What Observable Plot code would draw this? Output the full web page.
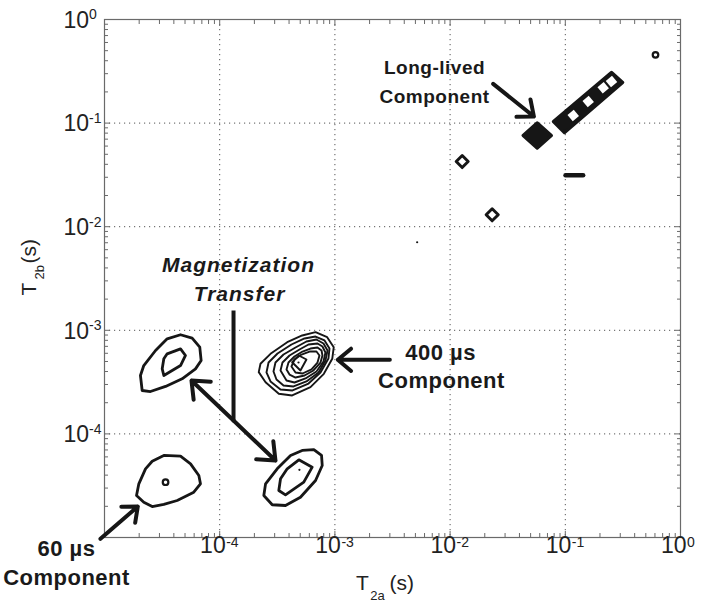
<!DOCTYPE html>
<html><head><meta charset="utf-8">
<script src="https://cdn.jsdelivr.net/npm/d3@7"></script>
<script src="https://cdn.jsdelivr.net/npm/@observablehq/plot@0.6"></script>
<style>body{margin:0;background:#fff}</style>
</head><body><div id="chart"></div>
<script>
// ---- Tick labels ----
const xTickValues = [1e-4, 1e-3, 1e-2, 1e-1, 1];
const xTickExponents = ["-4", "-3", "-2", "-1", "0"];
const yTickValues = [1, 1e-1, 1e-2, 1e-3, 1e-4];
const yTickExponents = ["0", "-1", "-2", "-3", "-4"];
const majorTicks = [1e-5, 1e-4, 1e-3, 1e-2, 1e-1, 1];
const gridDecades = [1e-4, 1e-3, 1e-2, 1e-1];
const minorMultipliers = [2, 3, 4, 5, 6, 7, 8, 9];

// ---- Contours: vertices as [log10 T2a, log10 T2b] (seconds) ----
const peakA_outer = [[-4.673,-3.581],[-4.688,-3.436],[-4.659,-3.340],[-4.557,-3.195],[-4.456,-3.082],[-4.340,-3.043],[-4.239,-3.076],[-4.173,-3.163],[-4.161,-3.292],[-4.210,-3.372],[-4.326,-3.468],[-4.470,-3.542],[-4.601,-3.591]];
const peakA_inner = [[-4.485,-3.275],[-4.456,-3.227],[-4.340,-3.179],[-4.297,-3.243],[-4.340,-3.340],[-4.485,-3.436],[-4.499,-3.372]];
const peakB_outer = [[-4.722,-4.595],[-4.702,-4.482],[-4.644,-4.337],[-4.586,-4.264],[-4.485,-4.208],[-4.340,-4.215],[-4.253,-4.289],[-4.181,-4.402],[-4.167,-4.482],[-4.225,-4.563],[-4.369,-4.643],[-4.485,-4.681],[-4.586,-4.701],[-4.659,-4.659]];
const peakC_outer = [[-3.617,-4.595],[-3.602,-4.482],[-3.501,-4.337],[-3.385,-4.208],[-3.284,-4.160],[-3.183,-4.151],[-3.116,-4.208],[-3.110,-4.305],[-3.168,-4.450],[-3.299,-4.611],[-3.429,-4.691],[-3.544,-4.684]];
const peakC_inner = [[-3.487,-4.546],[-3.472,-4.433],[-3.414,-4.337],[-3.313,-4.250],[-3.197,-4.321],[-3.270,-4.466],[-3.429,-4.588]];
const peakD_1 = [[-3.661,-3.404],[-3.646,-3.323],[-3.559,-3.227],[-3.414,-3.115],[-3.284,-3.050],[-3.168,-3.018],[-3.067,-3.067],[-3.010,-3.163],[-3.023,-3.275],[-3.096,-3.420],[-3.212,-3.549],[-3.371,-3.629],[-3.487,-3.613],[-3.602,-3.501]];
const peakD_2 = [[-3.594,-3.407],[-3.576,-3.311],[-3.498,-3.224],[-3.377,-3.137],[-3.264,-3.079],[-3.168,-3.060],[-3.090,-3.098],[-3.047,-3.176],[-3.056,-3.272],[-3.125,-3.407],[-3.229,-3.514],[-3.368,-3.581],[-3.472,-3.571],[-3.559,-3.494]];
const peakD_3 = [[-3.533,-3.398],[-3.516,-3.311],[-3.446,-3.234],[-3.342,-3.166],[-3.247,-3.108],[-3.160,-3.089],[-3.099,-3.127],[-3.064,-3.195],[-3.082,-3.291],[-3.142,-3.407],[-3.247,-3.494],[-3.359,-3.542],[-3.446,-3.533],[-3.507,-3.475]];
const peakD_4 = [[-3.472,-3.388],[-3.455,-3.311],[-3.394,-3.243],[-3.307,-3.185],[-3.229,-3.137],[-3.151,-3.127],[-3.108,-3.156],[-3.082,-3.214],[-3.099,-3.301],[-3.160,-3.398],[-3.255,-3.465],[-3.351,-3.504],[-3.420,-3.485]];
const peakD_5 = [[-3.420,-3.378],[-3.403,-3.311],[-3.351,-3.253],[-3.281,-3.205],[-3.212,-3.176],[-3.151,-3.166],[-3.116,-3.195],[-3.108,-3.243],[-3.125,-3.311],[-3.186,-3.388],[-3.264,-3.436],[-3.342,-3.456],[-3.394,-3.427]];
const peakD_6 = [[-3.377,-3.349],[-3.351,-3.282],[-3.290,-3.234],[-3.220,-3.205],[-3.160,-3.205],[-3.134,-3.243],[-3.151,-3.311],[-3.203,-3.378],[-3.281,-3.417],[-3.342,-3.407]];
const peakD_7 = [[-3.371,-3.308],[-3.313,-3.243],[-3.247,-3.282],[-3.299,-3.388]];
const openDiamond1 = [[-1.947,-1.371],[-1.895,-1.313],[-1.843,-1.371],[-1.895,-1.429]];
const openDiamond2 = [[-1.687,-1.885],[-1.635,-1.827],[-1.582,-1.885],[-1.635,-1.943]];
const longLivedPeak = [[-1.365,-1.120],[-1.244,-0.999],[-1.122,-1.120],[-1.244,-1.240]];
const diagonalBand = [[-1.102,-0.985],[-1.007,-1.091],[-0.503,-0.608],[-0.599,-0.512]];
const bandHoles = [[-0.931,-0.927],[-0.801,-0.792],[-0.671,-0.659],[-0.599,-0.598]];
const smallRing = [[-0.217,-0.341],[-4.470,-4.466]];
const peakDots = [[-3.308,-4.347],[-3.316,-3.311],[-2.286,-2.150]];
const dash = [[-0.998,-1.503],[-0.845,-1.503]];

// ---- Annotations (data coordinates, log10) ----
const arrowsLog = [
  {x1:-1.626, y1:-0.621, x2:-1.273, y2:-0.936},
  {x1:-2.523, y1:-3.285, x2:-2.975, y2:-3.285},
  {x1:-5.035, y1:-5.013, x2:-4.711, y2:-4.701},
  {x1:-3.880, y1:-3.871, x2:-4.245, y2:-3.485},
  {x1:-3.880, y1:-3.871, x2:-3.516, y2:-4.257}
];
const stemLog = [{x1:-3.880, y1:-2.809, x2:-3.880, y2:-3.871}];
const labelsBold = [
  {text:"Long-lived", x:-2.135, y:-0.463, size:19},
  {text:"Component", x:-2.135, y:-0.743, size:19},
  {text:"400 µs", x:-2.083, y:-3.221, size:22},
  {text:"Component", x:-2.075, y:-3.485, size:22},
  {text:"60 µs", x:-5.330, y:-5.106, size:22},
  {text:"Component", x:-5.330, y:-5.386, size:22}
];
const labelsItalic = [
  {text:"Magnetization", x:-3.837, y:-2.375},
  {text:"Transfer", x:-3.828, y:-2.648}
];

const P = 10;
const toPts = (arr) => arr.map(([a, b]) => ({x: P ** a, y: P ** b}));
const rows = (list) => list.flatMap(([id, arr]) => toPts(arr).map(p => ({...p, id})));
const thick = rows([["A1",peakA_outer],["A2",peakA_inner],["B1",peakB_outer],["C1",peakC_outer],["C2",peakC_inner]]);
const thin = rows([["D1",peakD_1],["D2",peakD_2],["D3",peakD_3],["D4",peakD_4],["D5",peakD_5],["D6",peakD_6],["D7",peakD_7]]);
const openD = rows([["o1",openDiamond1],["o2",openDiamond2]]);
const filled = rows([["f1",longLivedPeak],["f2",diagonalBand]]);
const conv = a => ({x1: P ** a.x1, y1: P ** a.y1, x2: P ** a.x2, y2: P ** a.y2});
const minorTicks = majorTicks.slice(0, -1).flatMap(d => minorMultipliers.map(m => d * m));
const tickColor = "#6a6a6a";
const ink = "#161616";

const chart = Plot.plot({
  width: 705, height: 611,
  marginLeft: 104, marginRight: 25, marginTop: 19, marginBottom: 74,
  style: {fontFamily: "'Liberation Sans', Arial, Helvetica, sans-serif", background: "#fff", color: "#222"},
  x: {type: "log", domain: [1e-5, 1]},
  y: {type: "log", domain: [1e-5, 1]},
  marks: [
    Plot.gridX(gridDecades, {stroke: "#555", strokeOpacity: 1, strokeWidth: 1, strokeDasharray: "1.2,3.8"}),
    Plot.gridY(gridDecades, {stroke: "#555", strokeOpacity: 1, strokeWidth: 1, strokeDasharray: "1.2,3.8"}),
    Plot.axisX(minorTicks, {anchor: "bottom", tickSize: -4, fill: "none", stroke: tickColor}),
    Plot.axisX(minorTicks, {anchor: "top", tickSize: -4, fill: "none", stroke: tickColor}),
    Plot.axisY(minorTicks, {anchor: "left", tickSize: -4, fill: "none", stroke: tickColor}),
    Plot.axisY(minorTicks, {anchor: "right", tickSize: -4, fill: "none", stroke: tickColor}),
    Plot.axisX(majorTicks, {anchor: "bottom", tickSize: -6, fill: "none", stroke: tickColor}),
    Plot.axisX(majorTicks, {anchor: "top", tickSize: -6, fill: "none", stroke: tickColor}),
    Plot.axisY(majorTicks, {anchor: "left", tickSize: -6, fill: "none", stroke: tickColor}),
    Plot.axisY(majorTicks, {anchor: "right", tickSize: -6, fill: "none", stroke: tickColor}),
    Plot.frame({stroke: tickColor, strokeWidth: 1.2}),
    // tick labels
    Plot.text(xTickValues, {x: d => d, frameAnchor: "bottom", text: () => "10", textAnchor: "end", dx: 6, dy: 15, fontSize: 23, fill: "#222"}),
    Plot.text(xTickValues, {x: d => d, frameAnchor: "bottom", text: (d, i) => xTickExponents[i], textAnchor: "start", dx: 6.5, dy: 9.5, fontSize: 14, fill: "#222"}),
    Plot.text(yTickValues, {y: d => d, frameAnchor: "left", text: () => "10", textAnchor: "start", dx: -41, dy: 1, fontSize: 23, fill: "#222"}),
    Plot.text(yTickValues, {y: d => d, frameAnchor: "left", text: (d, i) => yTickExponents[i], textAnchor: "start", dx: -15.5, dy: -4.5, fontSize: 14, fill: "#222"}),
    // axis titles
    Plot.text(["T"], {frameAnchor: "bottom", dx: -30, dy: 52, text: d => d, fontSize: 21, fill: "#222"}),
    Plot.text(["2a"], {frameAnchor: "bottom", dx: -15, dy: 62, text: d => d, fontSize: 13, fill: "#222"}),
    Plot.text(["(s)"], {frameAnchor: "bottom", dx: -3, textAnchor: "start", dy: 52, text: d => d, fontSize: 21, fill: "#222"}),
    Plot.text(["T"], {frameAnchor: "left", dx: -75, dy: 17, rotate: -90, text: d => d, fontSize: 21, fill: "#222"}),
    Plot.text(["2b"], {frameAnchor: "left", dx: -65, dy: 1, rotate: -90, text: d => d, fontSize: 13, fill: "#222"}),
    Plot.text(["(s)"], {frameAnchor: "left", dx: -75, dy: -15, rotate: -90, textAnchor: "start", text: d => d, fontSize: 21, fill: "#222"}),
    // contours
    Plot.line(thick, {x: "x", y: "y", z: "id", curve: "linear-closed", stroke: ink, strokeWidth: 2.8}),
    Plot.line(thin, {x: "x", y: "y", z: "id", curve: "linear-closed", stroke: ink, strokeWidth: 1.9}),
    Plot.line(openD, {x: "x", y: "y", z: "id", curve: "linear-closed", stroke: ink, strokeWidth: 3}),
    Plot.line(filled, {x: "x", y: "y", z: "id", curve: "linear-closed", stroke: ink, fill: ink, strokeWidth: 3.5}),
    Plot.dot(toPts(bandHoles), {x: "x", y: "y", symbol: "square", r: 4.6, rotate: 50, fill: "#fff"}),
    Plot.dot(toPts(smallRing), {x: "x", y: "y", r: 2.8, stroke: ink, strokeWidth: 2.2}),
    Plot.dot(toPts(peakDots), {x: "x", y: "y", r: 1.1, fill: ink}),
    Plot.line(toPts(dash), {x: "x", y: "y", stroke: ink, strokeWidth: 4.5, strokeLinecap: "round"}),
    // annotations
    Plot.link(stemLog.map(conv), {x1: "x1", y1: "y1", x2: "x2", y2: "y2", stroke: ink, strokeWidth: 4}),
    Plot.arrow(arrowsLog.map(conv), {x1: "x1", y1: "y1", x2: "x2", y2: "y2", stroke: ink, strokeWidth: 4, headLength: 13, headAngle: 80}),
    Plot.text(labelsBold, {x: d => P ** d.x, y: d => P ** d.y, text: "text", fontSize: d => d.size, fontWeight: "bold", fill: "#1a1a1a"}),
    Plot.text(labelsItalic, {x: d => P ** d.x, y: d => P ** d.y, text: "text", fontSize: 21, fontWeight: "bold", fontStyle: "italic", fill: "#1a1a1a"})
  ]
});
chart.querySelectorAll('g[font-style="italic"] text').forEach(t => t.setAttribute("letter-spacing", "1"));
chart.querySelectorAll('g[font-weight="bold"]:not([font-style]) text').forEach(t => t.setAttribute("letter-spacing", "0.5"));
document.getElementById("chart").appendChild(chart);
</script></body></html>
